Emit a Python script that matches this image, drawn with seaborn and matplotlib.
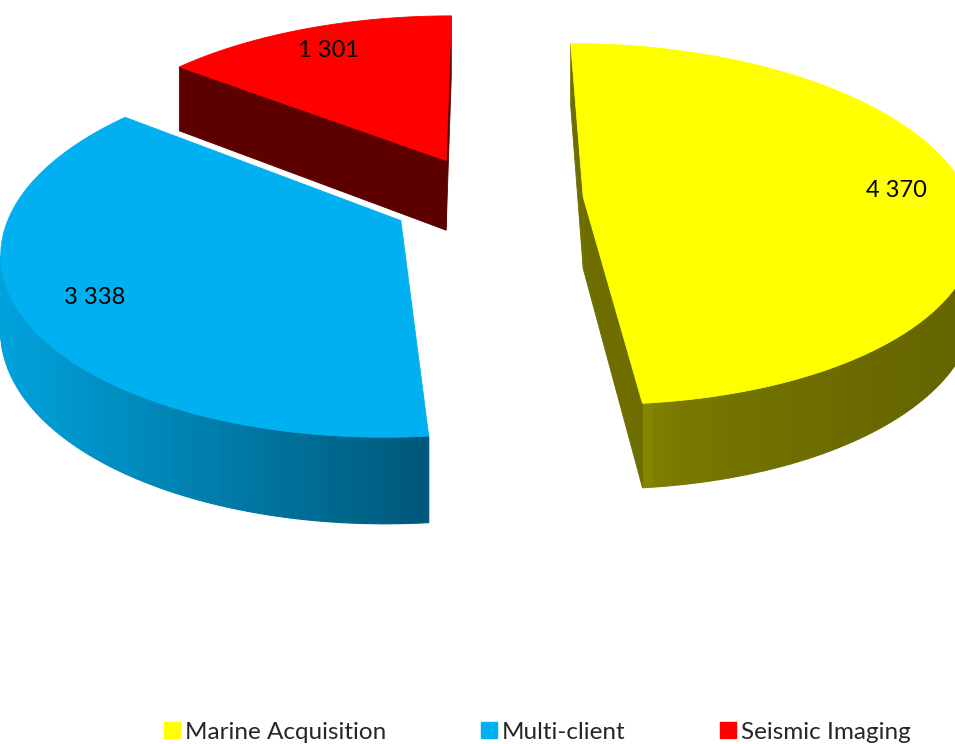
import numpy as np
import matplotlib
matplotlib.use("Agg")
import matplotlib.pyplot as plt
from matplotlib.lines import Line2D
from matplotlib.colors import to_rgb
import seaborn as sns

# ---- data ----
categories = ["Marine Acquisition", "Multi-client", "Seismic Imaging"]
values = [4370, 3338, 1301]
top_colors = ["#FFFF00", "#00B0F0", "#FF0000"]
side_light = ["#858500", "#00A2DC", "#5C0000"]
side_dark = ["#646400", "#00587A", "#5C0000"]
radial_colors = ["#6E6E00", "#00587A", "#5C0000"]

sns.set_theme(style="white")
plt.rcParams["font.family"] = ["Lato", "DejaVu Sans"]

# ---- projection (pseudo-perspective camera) ----
CX, CY = 487.0, 199.0
A, B, K, H = 386.0, 177.0, 0.15, 72.0
EXPLODE = 0.25
LABEL_R = 0.82


def proj(X, Y, Z):
    X = np.asarray(X, float)
    Y = np.asarray(Y, float)
    Z = np.asarray(Z, float)
    w = 1.0 / (1.0 + K * Y)
    return CX + A * X * w, CY - B * Y * w - H * Z * w


def signed_area(xs, ys):
    return 0.5 * np.sum(xs * np.roll(ys, -1) - np.roll(xs, -1) * ys)


fig = plt.figure(figsize=(9.55, 7.44), dpi=100)
ax = fig.add_axes([0, 0, 1, 1])
ax.set_xlim(0, 955)
ax.set_ylim(744, 0)
ax.axis("off")

total = float(sum(values))
fracs = np.array(values) / total
starts = np.concatenate([[0], np.cumsum(fracs)[:-1]]) * 360.0
ends = np.cumsum(fracs) * 360.0

slices = []
for i in range(len(values)):
    mid = np.radians((starts[i] + ends[i]) / 2)
    ox, oy = EXPLODE * np.sin(mid), EXPLODE * np.cos(mid)
    slices.append((oy, i, ox, mid))

# draw back-to-front
slices.sort(key=lambda t: -t[0])

for oy, i, ox, mid in slices:
    phis = np.radians(np.linspace(starts[i], ends[i], 140))
    rx = ox + np.sin(phis)
    ry = oy + np.cos(phis)

    # top face (reference orientation)
    tX = np.concatenate([[ox], rx[::-1]])
    tY = np.concatenate([[oy], ry[::-1]])
    tsx, tsy = proj(tX, tY, np.zeros_like(tX))
    ref_sign = np.sign(signed_area(tsx, tsy))

    # outer wall segments with horizontal shading
    lc = np.array(to_rgb(side_light[i]))
    dc = np.array(to_rgb(side_dark[i]))
    wall_vis = []
    for j in range(len(phis) - 1):
        X = [rx[j], rx[j], rx[j + 1], rx[j + 1]]
        Y = [ry[j], ry[j], ry[j + 1], ry[j + 1]]
        sx, sy = proj(X, Y, [-1, 0, 0, -1])
        a = signed_area(sx, sy)
        if np.sign(a) == ref_sign and abs(a) > 1e-6:
            wall_vis.append((sx, sy))
    if wall_vis:
        xs_mid = np.array([np.mean(s[0]) for s in wall_vis])
        x0, x1 = xs_mid.min(), xs_mid.max()
        gamma = 0.45 if i == 0 else 1.0
        for sx, sy in wall_vis:
            t = 0.0 if x1 == x0 else (np.mean(sx) - x0) / (x1 - x0)
            t = t ** gamma
            col = lc * (1 - t) + dc * t
            ax.fill(sx, sy, color=col, lw=0.8, ec=col, zorder=2)

    # radial walls
    faces = [
        ([rx[-1], rx[-1], ox, ox], [ry[-1], ry[-1], oy, oy]),
        ([ox, ox, rx[0], rx[0]], [oy, oy, ry[0], ry[0]]),
    ]
    for X, Y in faces:
        sx, sy = proj(X, Y, [-1, 0, 0, -1])
        a = signed_area(sx, sy)
        if np.sign(a) == ref_sign and abs(a) > 1.0:
            c = radial_colors[i]
            ax.fill(sx, sy, color=c, lw=0.6, ec=c, zorder=2)

    ax.fill(tsx, tsy, color=top_colors[i], lw=0.6, ec=top_colors[i], zorder=3)

    # value label on top face
    lx = ox + LABEL_R * np.sin(mid)
    ly = oy + LABEL_R * np.cos(mid)
    px, py = proj([lx], [ly], [0])
    ax.text(px[0], py[0], f"{values[i]:,}".replace(",", " "), ha="center", va="center",
            fontsize=17, color="black", zorder=5)

handles = [Line2D([0], [0], marker="s", linestyle="none", markersize=11,
                  markerfacecolor=c, markeredgecolor=c) for c in top_colors]
leg = fig.legend(handles, categories, loc="lower center", bbox_to_anchor=(0.562, -0.028),
                 ncol=3, frameon=False, fontsize=17.5, handletextpad=0.15,
                 columnspacing=3.8, handlelength=0.8)

fig.savefig("out.png", dpi=100)
